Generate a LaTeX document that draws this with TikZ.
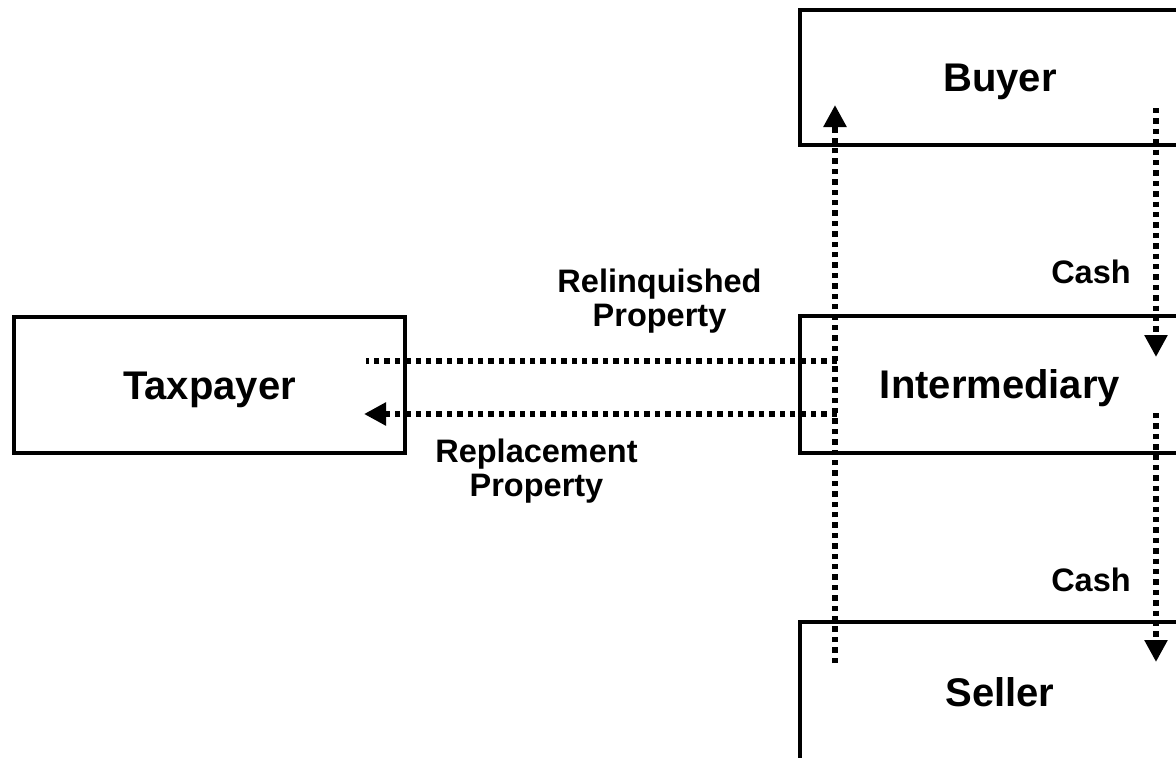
\documentclass[tikz,border=0pt]{standalone}
\usepackage{fontspec}
\setmainfont{Liberation Sans}
\usetikzlibrary{arrows.meta}
\tikzset{
  boxnode/.style={draw, line width=4.6pt, rectangle, inner sep=0pt,
    font=\fontsize{40}{48}\selectfont\bfseries, text height=28.6pt, text depth=0pt},
  lbl/.style={font=\fontsize{32.5}{34}\selectfont\bfseries, align=center, inner sep=0pt},
  flow/.style={line width=5.4pt, dash pattern=on 5.4pt off 5pt},
  tipflow/.style={flow, -{Triangle[length=22pt,width=22pt]}}
}
\begin{document}
\begin{tikzpicture}[x=1pt,y=-1pt]
\useasboundingbox (0,0) rectangle (1176,758);
\clip (0,0) rectangle (1176,758);
% boxes
\node[boxnode, minimum width=400pt, minimum height=135pt] (buyer) at (1000,77.5) {Buyer};
\node[boxnode, minimum width=400pt, minimum height=137pt] (inter) at (1000,384.5) {Intermediary};
\node[boxnode, minimum width=400pt, minimum height=140pt] (seller) at (1000,692) {Seller};
\node[boxnode, minimum width=391pt, minimum height=136pt] (tax) at (209.5,385) {Taxpayer};
% connector end points
\coordinate (upS) at (835,663);
\coordinate (upE) at (835,105);
\coordinate (c1S) at (1156,108);
\coordinate (c1E) at (1156,357);
\coordinate (c2S) at (1156,413);
\coordinate (c2E) at (1156,662);
\coordinate (relS) at (837,361);
\coordinate (relE) at (366,361);
\coordinate (repS) at (837,414);
\coordinate (repE) at (364,414);
% connectors
\draw[tipflow] (upS) -- (upE);
\draw[tipflow] (c1S) -- (c1E);
\draw[tipflow] (c2S) -- (c2E);
\draw[flow] (relS) -- (relE);
\draw[tipflow] (repS) -- (repE);
% labels
\node[lbl] (lrel) at (659.5,301) {Relinquished\\Property};
\node[lbl] (lrep) at (536.5,471) {Replacement\\Property};
\node[lbl] (cash1) at (1091,272) {Cash};
\node[lbl] (cash2) at (1091,580) {Cash};
\end{tikzpicture}
\end{document}
